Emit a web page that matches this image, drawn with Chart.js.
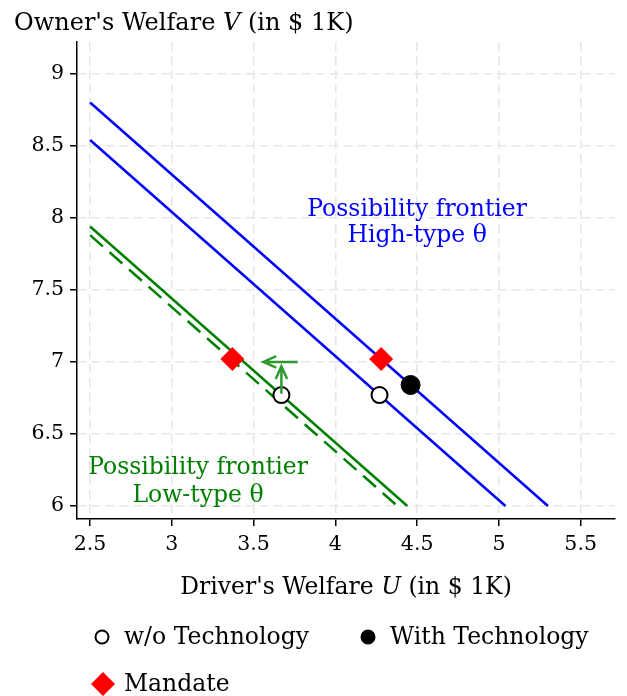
<!DOCTYPE html>
<html>
<head>
<meta charset="utf-8">
<script src="https://cdn.jsdelivr.net/npm/chart.js@4.4.1/dist/chart.umd.min.js"></script>
<style>
  html, body { margin: 0; padding: 0; background: #ffffff; }
  canvas { display: block; }
</style>
</head>
<body>
<canvas id="chart" width="627" height="696"></canvas>
<script>
// Axis ticks
const xTicks = [2.5, 3, 3.5, 4, 4.5, 5, 5.5];
const yTicks = [6, 6.5, 7, 7.5, 8, 8.5, 9];

// Possibility frontiers (U, V) end points
const highFrontierOuter = [[2.5, 8.80], [5.30, 6.00]];
const highFrontierInner = [[2.5, 8.54], [5.04, 6.00]];
const lowFrontier = [[2.5, 7.94], [4.44, 6.00]];
const lowFrontierShifted = [[2.5, 7.88], [4.38, 6.00]];

// Equilibrium points
const withoutTech = [[3.67, 6.77], [4.27, 6.77]];
const withTech = [[4.46, 6.84]];
const mandate = [[3.37, 7.02], [4.28, 7.02]];

// Arrows: [from, to]
const arrowLeft = [[3.77, 7.00], [3.56, 7.00]];
const arrowUp = [[3.67, 6.78], [3.67, 6.97]];

// Frontier annotations: [centre U, baseline V] per line
const highLabel = ['Possibility frontier', 'High-type θ'];
const highLabelPos = [[4.50, 8.01], [4.50, 7.83]];
const lowLabel = ['Possibility frontier', 'Low-type θ'];
const lowLabelPos = [[3.16, 6.22], [3.16, 6.025]];

const FONT = '"DejaVu Serif", serif';
const BLUE = '#0000ff';
const GREEN = '#008000';
const ARROW_GREEN = '#2f9a2f';
const RED = '#ff0000';

const pts = arr => arr.map(([x, y]) => ({ x, y }));

function lineSet(label, arr, color, dash) {
  return {
    label, type: 'line', data: pts(arr), showLine: true,
    borderColor: color, borderWidth: 2.5, borderDash: dash || [],
    pointRadius: 0, fill: false, order: 2
  };
}

// Text drawn in pieces so a symbol can be set in italics
function drawRich(ctx, parts, x, y, size, align) {
  const fonts = parts.map(p => (p[1] ? 'italic ' : '') + size + 'px ' + FONT);
  let total = 0;
  parts.forEach((p, i) => { ctx.font = fonts[i]; total += ctx.measureText(p[0]).width; });
  let cx = align === 'center' ? x - total / 2 : x;
  ctx.textAlign = 'left';
  parts.forEach((p, i) => {
    ctx.font = fonts[i];
    ctx.fillText(p[0], cx, y);
    cx += ctx.measureText(p[0]).width;
  });
}

function drawArrow(ctx, x1, y1, x2, y2, color) {
  const ang = Math.atan2(y2 - y1, x2 - x1);
  const head = 14;
  ctx.save();
  ctx.strokeStyle = color;
  ctx.lineWidth = 2.5;
  ctx.beginPath();
  ctx.moveTo(x1, y1);
  ctx.lineTo(x2, y2);
  ctx.moveTo(x2 - head * Math.cos(ang - 0.42), y2 - head * Math.sin(ang - 0.42));
  ctx.lineTo(x2, y2);
  ctx.lineTo(x2 - head * Math.cos(ang + 0.42), y2 - head * Math.sin(ang + 0.42));
  ctx.stroke();
  ctx.restore();
}

// Fixed axis footprint so the plotting area keeps its place
function fixBox(size, horizontal) {
  return s => {
    if (horizontal) s.height = size; else s.width = size;
    s.paddingLeft = 0; s.paddingRight = 0; s.paddingTop = 0; s.paddingBottom = 0;
  };
}

const annotations = {
  id: 'annotations',
  afterDatasetsDraw(chart) {
    const { ctx, scales: { x, y } } = chart;
    [arrowLeft, arrowUp].forEach(a => {
      drawArrow(ctx, x.getPixelForValue(a[0][0]), y.getPixelForValue(a[0][1]),
        x.getPixelForValue(a[1][0]), y.getPixelForValue(a[1][1]), ARROW_GREEN);
    });
    ctx.save();
    ctx.textBaseline = 'alphabetic';
    ctx.fillStyle = BLUE;
    highLabel.forEach((t, i) => drawRich(ctx, [[t, false]],
      x.getPixelForValue(highLabelPos[i][0]), y.getPixelForValue(highLabelPos[i][1]), 23.5, 'center'));
    ctx.fillStyle = GREEN;
    lowLabel.forEach((t, i) => drawRich(ctx, [[t, false]],
      x.getPixelForValue(lowLabelPos[i][0]), y.getPixelForValue(lowLabelPos[i][1]), 23.5, 'center'));
    ctx.restore();
  },
  afterDraw(chart) {
    const { ctx, chartArea } = chart;
    ctx.save();
    ctx.fillStyle = '#000';
    ctx.textBaseline = 'alphabetic';
    drawRich(ctx, [["Owner's Welfare ", false], ['V', true], [' (in $ 1K)', false]], 14, 30, 24, 'left');
    drawRich(ctx, [["Driver's Welfare ", false], ['U', true], [' (in $ 1K)', false]],
      (chartArea.left + chartArea.right) / 2, 594, 23.5, 'center');

    // Legend
    const items = [
      { ds: 0, x: 102, y: 637, tx: 124 },
      { ds: 1, x: 368, y: 637, tx: 390 },
      { ds: 2, x: 103, y: 684, tx: 124 }
    ];
    items.forEach(it => {
      const d = chart.data.datasets[it.ds];
      ctx.beginPath();
      if (d.pointStyle === 'rectRot') {
        const r = 12;
        ctx.moveTo(it.x - r, it.y); ctx.lineTo(it.x, it.y - r);
        ctx.lineTo(it.x + r, it.y); ctx.lineTo(it.x, it.y + r);
        ctx.closePath();
        ctx.fillStyle = d.pointBackgroundColor; ctx.fill();
      } else {
        ctx.arc(it.x, it.y, 6.5, 0, Math.PI * 2);
        ctx.fillStyle = d.pointBackgroundColor; ctx.fill();
        ctx.lineWidth = 2; ctx.strokeStyle = d.pointBorderColor; ctx.stroke();
      }
      ctx.fillStyle = '#000';
      ctx.font = '23.5px ' + FONT;
      ctx.textBaseline = 'middle';
      ctx.fillText(d.label, it.tx, it.y + 1);
    });
    ctx.restore();
  }
};

new Chart(document.getElementById('chart'), {
  type: 'scatter',
  data: {
    datasets: [
      { label: 'w/o Technology', data: pts(withoutTech), pointStyle: 'circle', pointRadius: 8,
        pointBorderWidth: 2, pointBackgroundColor: '#ffffff', pointBorderColor: '#000000', order: 1 },
      { label: 'With Technology', data: pts(withTech), pointStyle: 'circle', pointRadius: 9.5,
        pointBorderWidth: 1, pointBackgroundColor: '#000000', pointBorderColor: '#000000', order: 1 },
      { label: 'Mandate', data: pts(mandate), pointStyle: 'rectRot', pointRadius: 12,
        pointBorderWidth: 0, pointBackgroundColor: RED, pointBorderColor: RED, order: 0 },
      lineSet('High-type frontier', highFrontierOuter, BLUE),
      lineSet('High-type frontier, inner', highFrontierInner, BLUE),
      lineSet('Low-type frontier', lowFrontier, GREEN),
      lineSet('Low-type frontier, shifted', lowFrontierShifted, GREEN, [17, 9])
    ]
  },
  options: {
    responsive: false,
    animation: false,
    devicePixelRatio: 1,
    layout: { padding: { left: 0, top: 42, right: 8, bottom: 0 } },
    plugins: { legend: { display: false }, tooltip: { enabled: false } },
    scales: {
      x: {
        type: 'linear', min: 2.42, max: 5.71,
        afterBuildTicks: s => { s.ticks = xTicks.map(v => ({ value: v })); },
        afterFit: fixBox(177, true),
        grid: { color: '#e6e6e6', lineWidth: 1.5, tickColor: '#000', tickLength: 7, tickWidth: 1.5 },
        border: { display: true, color: '#000', width: 1.5, dash: [9, 5] },
        ticks: { color: '#000', font: { family: FONT, size: 20.5 }, padding: 6, maxRotation: 0,
          autoSkip: false, callback: v => String(v) }
      },
      y: {
        type: 'linear', min: 5.91, max: 9.22,
        afterBuildTicks: s => { s.ticks = yTicks.map(v => ({ value: v })); },
        afterFit: fixBox(77, false),
        grid: { color: '#e6e6e6', lineWidth: 1.5, tickColor: '#000', tickLength: 7, tickWidth: 1.5 },
        border: { display: true, color: '#000', width: 1.5, dash: [9, 5] },
        ticks: { color: '#000', font: { family: FONT, size: 20.5 }, padding: 6,
          autoSkip: false, callback: v => String(v) }
      }
    }
  },
  plugins: [annotations]
});
</script>
</body>
</html>
